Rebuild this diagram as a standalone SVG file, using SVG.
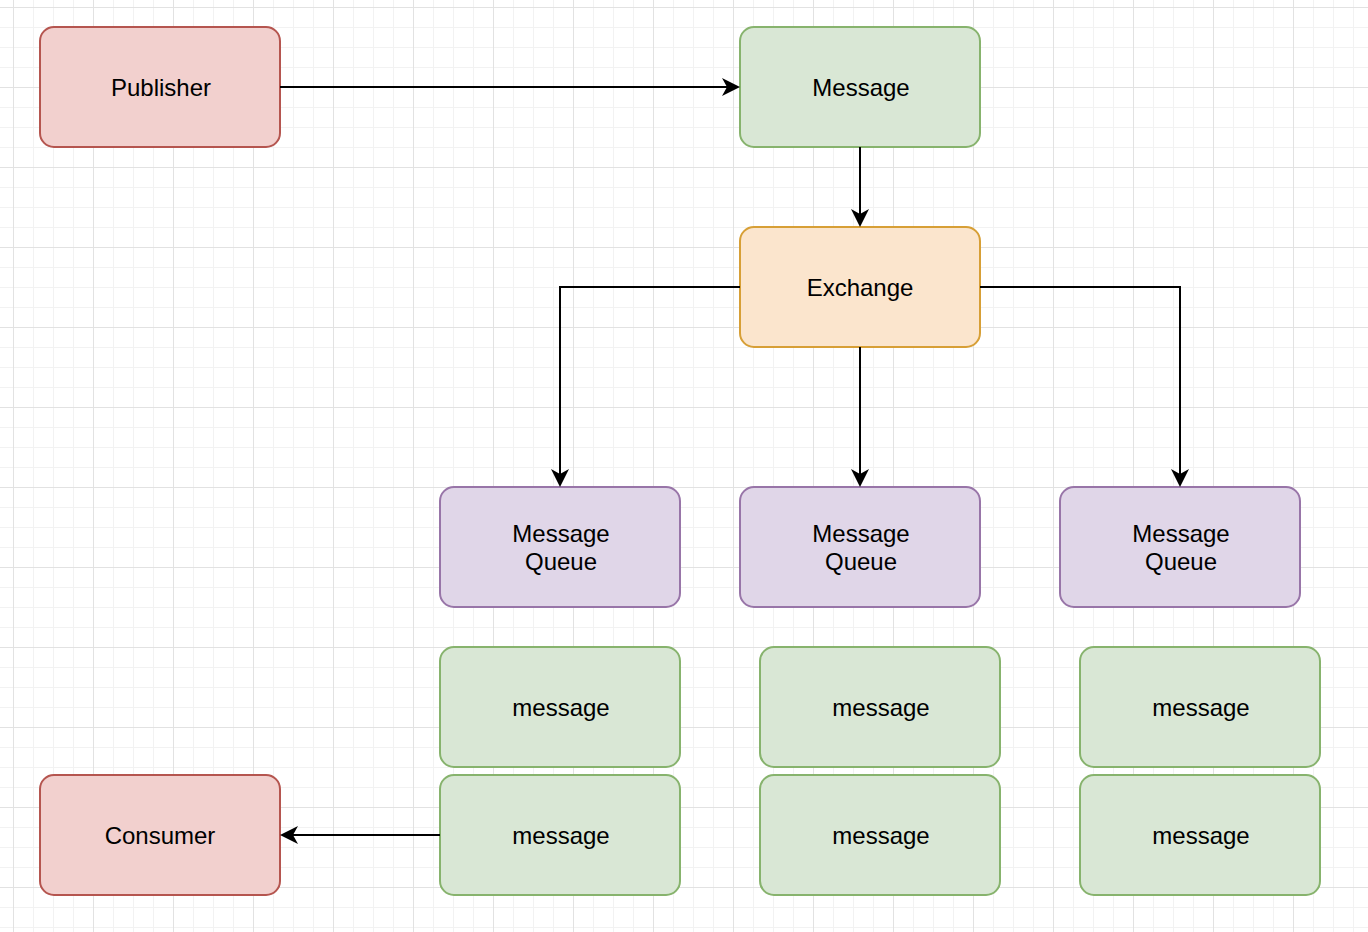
<svg xmlns="http://www.w3.org/2000/svg" width="1368" height="932" viewBox="0 0 1368 932">
<defs>
<pattern id="minor" width="20" height="20" patternUnits="userSpaceOnUse" x="13" y="7">
<path d="M0,0.5 H20 M0.5,0 V20" fill="none" stroke="#f2f2f2" stroke-width="1"/>
</pattern>
<pattern id="major" width="80" height="80" patternUnits="userSpaceOnUse" x="13" y="7">
<path d="M0,0.5 H80 M0.5,0 V80" fill="none" stroke="#e2e2e2" stroke-width="1"/>
</pattern>
<marker id="arr" markerUnits="userSpaceOnUse" markerWidth="20" markerHeight="20" refX="5" refY="9" orient="auto">
<path d="M0,0 L18,9 L0,18 L5,9 Z" fill="#000"/>
</marker>
</defs>
<style>
.n rect{stroke-width:2}
.red rect{fill:#f2d0ce;stroke:#b5554f}
.green rect{fill:#d9e7d5;stroke:#87b36d}
.orange rect{fill:#fbe5cd;stroke:#d79f36}
.purple rect{fill:#e0d6e8;stroke:#9875a8}
text{font-family:"Liberation Sans",Arial,Helvetica,sans-serif;font-size:24px;fill:#000;text-anchor:middle}
.c path{fill:none;stroke:#000;stroke-width:2;marker-end:url(#arr)}
</style>
<rect width="1368" height="932" fill="#fff"/>
<rect width="1368" height="932" fill="url(#minor)"/>
<rect width="1368" height="932" fill="url(#major)"/>

<g id="publisher" class="n red"><rect x="40" y="27" width="240" height="120" rx="14"/><text x="161" y="96">Publisher</text></g>
<g id="message" class="n green"><rect x="740" y="27" width="240" height="120" rx="14"/><text x="861" y="96">Message</text></g>
<g id="exchange" class="n orange"><rect x="740" y="227" width="240" height="120" rx="14"/><text x="860" y="296">Exchange</text></g>
<g id="queue1" class="n purple"><rect x="440" y="487" width="240" height="120" rx="14"/><text x="561" y="542">Message</text><text x="561" y="570">Queue</text></g>
<g id="queue2" class="n purple"><rect x="740" y="487" width="240" height="120" rx="14"/><text x="861" y="542">Message</text><text x="861" y="570">Queue</text></g>
<g id="queue3" class="n purple"><rect x="1060" y="487" width="240" height="120" rx="14"/><text x="1181" y="542">Message</text><text x="1181" y="570">Queue</text></g>
<g id="msg1a" class="n green"><rect x="440" y="647" width="240" height="120" rx="14"/><text x="561" y="716">message</text></g>
<g id="msg1b" class="n green"><rect x="440" y="775" width="240" height="120" rx="14"/><text x="561" y="844">message</text></g>
<g id="msg2a" class="n green"><rect x="760" y="647" width="240" height="120" rx="14"/><text x="881" y="716">message</text></g>
<g id="msg2b" class="n green"><rect x="760" y="775" width="240" height="120" rx="14"/><text x="881" y="844">message</text></g>
<g id="msg3a" class="n green"><rect x="1080" y="647" width="240" height="120" rx="14"/><text x="1201" y="716">message</text></g>
<g id="msg3b" class="n green"><rect x="1080" y="775" width="240" height="120" rx="14"/><text x="1201" y="844">message</text></g>
<g id="consumer" class="n red"><rect x="40" y="775" width="240" height="120" rx="14"/><text x="160" y="844">Consumer</text></g>

<g id="connectors" class="c">
<path d="M280,87 H727"/>
<path d="M860,147 V214"/>
<path d="M740,287 H560 V474"/>
<path d="M860,347 V474"/>
<path d="M980,287 H1180 V474"/>
<path d="M440,835 H293"/>
</g>
</svg>
